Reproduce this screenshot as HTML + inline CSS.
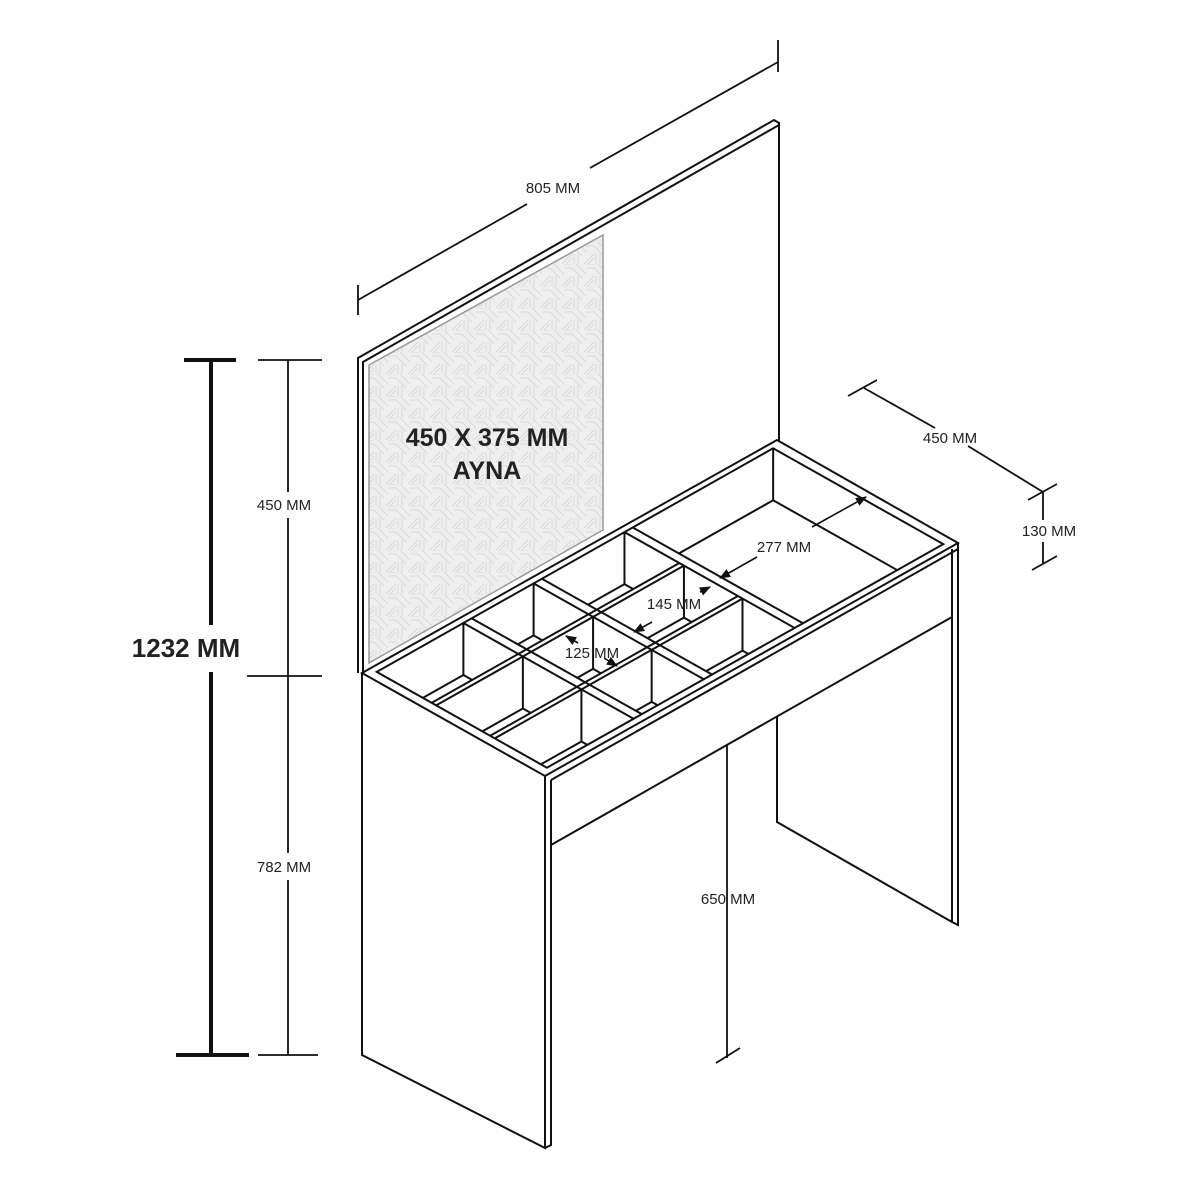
<!DOCTYPE html>
<html><head><meta charset="utf-8"><style>
html,body{margin:0;padding:0;background:#fff}
svg{display:block}
text{font-family:"Liberation Sans",sans-serif;fill:#222}
</style></head><body>
<svg id="s" width="1200" height="1200" viewBox="0 0 1200 1200" xmlns="http://www.w3.org/2000/svg">
<defs>
<pattern id="hp" width="22" height="22" patternUnits="userSpaceOnUse">
<rect width="22" height="22" fill="#efefef"/>
<path d="M0 4 L10 14 M4 0 L14 10 M12 22 L22 12 M16 22 L22 16 M2 22 V12 M6 22 V12 M14 0 H22 M14 4 H22" stroke="#d4d4d4" stroke-width="0.8" fill="none"/>
</pattern>
<marker id="ah" viewBox="0 0 10 10" refX="9" refY="5" markerWidth="7" markerHeight="7" orient="auto-start-reverse"><path d="M0 1 L10 5 L0 9 Z" fill="#111"/></marker>
</defs>
<g fill="none" stroke="#111" stroke-width="2" stroke-linejoin="miter" stroke-linecap="square">
<!-- mirror panel -->
<path d="M358 672 V358 L774 120 L779 123 V441" />
<path d="M363 672 V362 L779 125" />
<polygon points="369,365 603,235 603,530 369,663" fill="url(#hp)" stroke="#999" stroke-width="1.5"/>
</g>
<g id="grid" fill="none" stroke="#111" stroke-width="2"></g>
<g fill="none" stroke="#111" stroke-width="2">
<!-- table top outer -->
<path d="M362 673 L545 776 L958 543 L777 440 Z" />
<path d="M551 780 L958 549" />
<!-- left leg -->
<path d="M362 673 V1055 L545 1148 V776" />
<path d="M551 780 V1145 L545 1148" />
<!-- apron -->
<path d="M551 845 L952 617" />
<!-- right leg -->
<path d="M952 549 V922 M958 543 V925 L952 922 M777 717 V822 L952 922" />
<!-- back leg / 650 -->
<path d="M727 745 V1058" stroke-width="1.8"/>
<path d="M716 1063 L740 1048" stroke-width="1.8"/>
</g>
<!-- dimensions -->
<g stroke="#111" stroke-width="1.8" fill="none">
<path d="M358 285 V315 M778 40 V72 M358 300 L527 204 M590 168 L778 62"/>
<path d="M848 396 L877 380 M864 388 L935 428 M968 446 L1043 492 M1028 500 L1057 484 M1043 492 V520 M1043 542 V563 M1032 570 L1057 556"/>
<path d="M258 360 H322 M247 676 H322 M258 1055 H318 M288 360 V492 M288 518 V853 M288 880 V1055"/>
</g>
<g stroke="#111" stroke-width="4" fill="none">
<path d="M184 360 H236 M176 1055 H249 M211 360 V625 M211 672 V1055"/>
</g>
<!-- inner dims -->
<g stroke="#111" stroke-width="1.6" fill="none">
<path d="M720 578 L757 557 M812 527 L866 497" marker-start="url(#ah)" marker-end="url(#ah)"/>
<path d="M634 632 L652 622 M700 592 L710 587" marker-start="url(#ah)" marker-end="url(#ah)"/>
<path d="M578 643 L566 636" marker-end="url(#ah)"/>
<path d="M604 658 L617 666" marker-end="url(#ah)"/>
</g>
<g font-size="15">
<text x="553" y="193" text-anchor="middle">805 MM</text>
<text x="950" y="443" text-anchor="middle">450 MM</text>
<text x="1049" y="536" text-anchor="middle">130 MM</text>
<text x="284" y="510" text-anchor="middle">450 MM</text>
<text x="284" y="872" text-anchor="middle">782 MM</text>
<text x="728" y="904" text-anchor="middle">650 MM</text>
<text x="784" y="552" text-anchor="middle">277 MM</text>
<text x="674" y="609" text-anchor="middle">145 MM</text>
<text x="592" y="658" text-anchor="middle">125 MM</text>
</g>
<g font-weight="bold" text-anchor="middle">
<text x="186" y="657" font-size="26">1232 MM</text>
<text x="487" y="446" font-size="25">450 X 375 MM</text>
<text x="487" y="479" font-size="25">AYNA</text>
</g>
</svg>
<script>
(function(){
var NS="http://www.w3.org/2000/svg",g=document.getElementById('grid'),svg=document.getElementById('s');
var defs=svg.querySelector('defs');
function P(u,v){return [362+183*u+413*v,673+103*u-233*v];}
function el(t,a,p){var e=document.createElementNS(NS,t);for(var k in a)e.setAttribute(k,a[k]);(p||g).appendChild(e);return e;}
function pts(a){return a.map(function(p){return p[0].toFixed(1)+','+p[1].toFixed(1)}).join(' ');}
var H=52,id=0;
function cell(ub,uf,vl,vr){
  var q=[P(ub,vl),P(uf,vl),P(uf,vr),P(ub,vr)];
  var cp=el('clipPath',{id:'c'+id},defs);el('polygon',{points:pts(q)},cp);
  var gg=el('g',{'clip-path':'url(#c'+id+')'});id++;
  var t=P(ub,vr),b=[t[0],t[1]+H];
  el('line',{x1:t[0],y1:t[1],x2:b[0],y2:b[1]},gg);
  var l=P(ub,vl-0.3);el('line',{x1:b[0],y1:b[1],x2:l[0],y2:l[1]+H},gg);
  var f=P(uf+0.3,vr);el('line',{x1:b[0],y1:b[1],x2:f[0],y2:f[1]+H},gg);
}
var u0=0.035,u1=0.965,v0=0.02,v1=0.98;
var rows=[[u0,0.335],[0.36,0.655],[0.68,u1]];
var cols=[[v0,0.23],[0.25,0.40],[0.42,0.62]];
rows.forEach(function(r){cols.forEach(function(c){cell(r[0],r[1],c[0],c[1]);});});
cell(u0,u1,0.64,v1);
// rim inner
el('polygon',{points:pts([P(u0,v0),P(u1,v0),P(u1,v1),P(u0,v1)])});
// width dividers (along depth)
[[0.23,0.25],[0.40,0.42],[0.62,0.64]].forEach(function(d){
  [d[0],d[1]].forEach(function(v){var a=P(u0,v),b=P(u1,v);el('line',{x1:a[0],y1:a[1],x2:b[0],y2:b[1]});});
});
// depth dividers
[[0.335,0.36],[0.655,0.68]].forEach(function(d){
  [d[0],d[1]].forEach(function(u){var a=P(u,v0),b=P(u,0.62);el('line',{x1:a[0],y1:a[1],x2:b[0],y2:b[1]});});
});
})();
</script>
</body></html>
